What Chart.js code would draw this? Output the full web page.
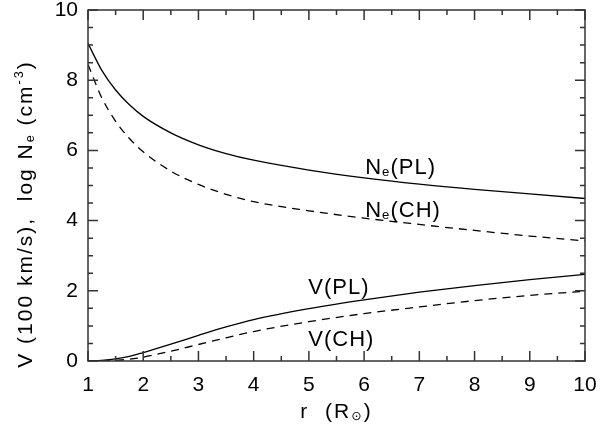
<!DOCTYPE html>
<html>
<head>
<meta charset="utf-8">
<script src="https://cdn.jsdelivr.net/npm/chart.js@4.4.0/dist/chart.umd.min.js"></script>
<style>
  html, body { margin: 0; padding: 0; background: #fff; }
  canvas { display: block; }
</style>
</head>
<body>
<canvas id="windChart" width="604" height="432"></canvas>
<script>
// Radial distance in solar radii
const radius = [1, 1.25, 1.5, 1.75, 2, 2.5, 3, 3.5, 4, 5, 6, 7, 8, 9, 10];

// log Ne (cm^-3), plume and coronal hole
const nePL = [9.05, 8.28, 7.72, 7.30, 6.97, 6.50, 6.16, 5.91, 5.72, 5.44, 5.22, 5.04, 4.89, 4.76, 4.63];
const neCH = [8.45, 7.50, 6.83, 6.34, 5.96, 5.41, 5.03, 4.75, 4.54, 4.28, 4.07, 3.89, 3.72, 3.56, 3.42];

// Outflow speed (100 km/s), plume and coronal hole
const vPL = [0, 0.02, 0.06, 0.13, 0.24, 0.48, 0.73, 0.97, 1.18, 1.49, 1.74, 1.96, 2.15, 2.32, 2.47];
const vCH = [0, 0, 0.02, 0.05, 0.11, 0.28, 0.47, 0.66, 0.84, 1.12, 1.35, 1.54, 1.72, 1.87, 1.99];

// In-plot curve names: main letter, subscript, rest, anchored in data units
const curveLabels = [
    { main: 'N', sub: 'e', rest: '(PL)', r: 6.02, v: 5.33 },
    { main: 'N', sub: 'e', rest: '(CH)', r: 6.02, v: 4.10 },
    { main: 'V', sub: '', rest: '(PL)', r: 4.99, v: 1.92 },
    { main: 'V', sub: '', rest: '(CH)', r: 4.99, v: 0.44 }
];

const FONT = "'Liberation Sans', 'DejaVu Sans', sans-serif";
const INK = '#000';
const AXIS = '#333';

Chart.defaults.font.family = FONT;
Chart.defaults.color = INK;

function pts(ys) {
    return radius.map((r, i) => ({ x: r, y: ys[i] }));
}

function line(ys, dashed) {
    return {
        data: pts(ys),
        borderColor: INK,
        borderWidth: 1.3,
        borderDash: dashed ? [8, 6] : [],
        pointRadius: 0,
        fill: false,
        cubicInterpolationMode: 'monotone'
    };
}

// Draws a run of text with optional sub/superscripts, returns its width
function richText(ctx, parts, x, y, size, measureOnly) {
    let cx = x;
    parts.forEach(p => {
        if (!p.t) return;
        const small = p.sub || p.sup;
        ctx.font = (small ? size * 0.6 : size) + 'px ' + FONT;
        const dy = p.sub ? size * 0.1 : p.sup ? -size * 0.45 : 0;
        if (!measureOnly) ctx.fillText(p.t, cx, y + dy);
        cx += ctx.measureText(p.t).width;
    });
    return cx - x;
}

// Box frame with inward ticks on all four sides, axis titles and curve names
const framePlugin = {
    id: 'frame',
    afterDatasetsDraw(chart) {
        const { ctx, chartArea: a, scales: { x, y } } = chart;
        ctx.save();
        ctx.strokeStyle = AXIS;
        ctx.lineWidth = 1.5;
        ctx.strokeRect(a.left, a.top, a.right - a.left, a.bottom - a.top);

        ctx.beginPath();
        for (let r = 1; r <= 10; r += 0.5) {
            const px = x.getPixelForValue(r);
            const len = Number.isInteger(r) ? 10 : 5;
            ctx.moveTo(px, a.bottom); ctx.lineTo(px, a.bottom - len);
            ctx.moveTo(px, a.top); ctx.lineTo(px, a.top + len);
        }
        for (let v = 0; v <= 10; v += 0.5) {
            const py = y.getPixelForValue(v);
            const len = v % 2 === 0 ? 10 : 5;
            ctx.moveTo(a.left, py); ctx.lineTo(a.left + len, py);
            ctx.moveTo(a.right, py); ctx.lineTo(a.right - len, py);
        }
        ctx.stroke();

        ctx.fillStyle = INK;
        ctx.textAlign = 'left';
        ctx.textBaseline = 'alphabetic';
        ctx.letterSpacing = '1px';

        curveLabels.forEach(l => {
            richText(ctx, [{ t: l.main }, { t: l.sub, sub: true }, { t: l.rest }],
                x.getPixelForValue(l.r), y.getPixelForValue(l.v), 22);
        });

        ctx.letterSpacing = '2px';

        // x title: r (R_sun)
        const xParts = [{ t: 'r  (R' }, { t: '\u2299', sub: true }, { t: ')' }];
        const xw = richText(ctx, xParts, 0, 0, 21, true);
        richText(ctx, xParts, (a.left + a.right) / 2 - xw / 2, 418, 21);

        // y title, rotated
        const yParts = [
            { t: 'V (100 km/s),  log N' }, { t: 'e', sub: true },
            { t: ' (cm' }, { t: '-3', sup: true }, { t: ')' }
        ];
        const yw = richText(ctx, yParts, 0, 0, 21, true);
        ctx.translate(32, 214);
        ctx.rotate(-Math.PI / 2);
        richText(ctx, yParts, -yw / 2, 0, 21);
        ctx.restore();
    }
};

new Chart(document.getElementById('windChart'), {
    type: 'line',
    data: {
        datasets: [
            line(nePL, false),
            line(neCH, true),
            line(vPL, false),
            line(vCH, true)
        ]
    },
    options: {
        responsive: false,
        animation: false,
        layout: { padding: { top: 10, right: 19, left: 0, bottom: 0 } },
        plugins: {
            legend: { display: false },
            tooltip: { enabled: false }
        },
        scales: {
            x: {
                type: 'linear',
                min: 1,
                max: 10,
                grid: { display: false, drawTicks: false },
                border: { display: false },
                ticks: { stepSize: 1, padding: 12, maxRotation: 0, autoSkip: false, font: { size: 21 } },
                afterFit: s => {
                    s.height = 71;
                    s.paddingLeft = 0;
                    s.paddingRight = 0;
                }
            },
            y: {
                min: 0,
                max: 10,
                grid: { display: false, drawTicks: false },
                border: { display: false },
                ticks: { stepSize: 2, padding: 10, font: { size: 21 } },
                afterFit: s => {
                    s.width = 88;
                    s.paddingTop = 0;
                    s.paddingBottom = 0;
                }
            }
        }
    },
    plugins: [framePlugin]
});
</script>
</body>
</html>
